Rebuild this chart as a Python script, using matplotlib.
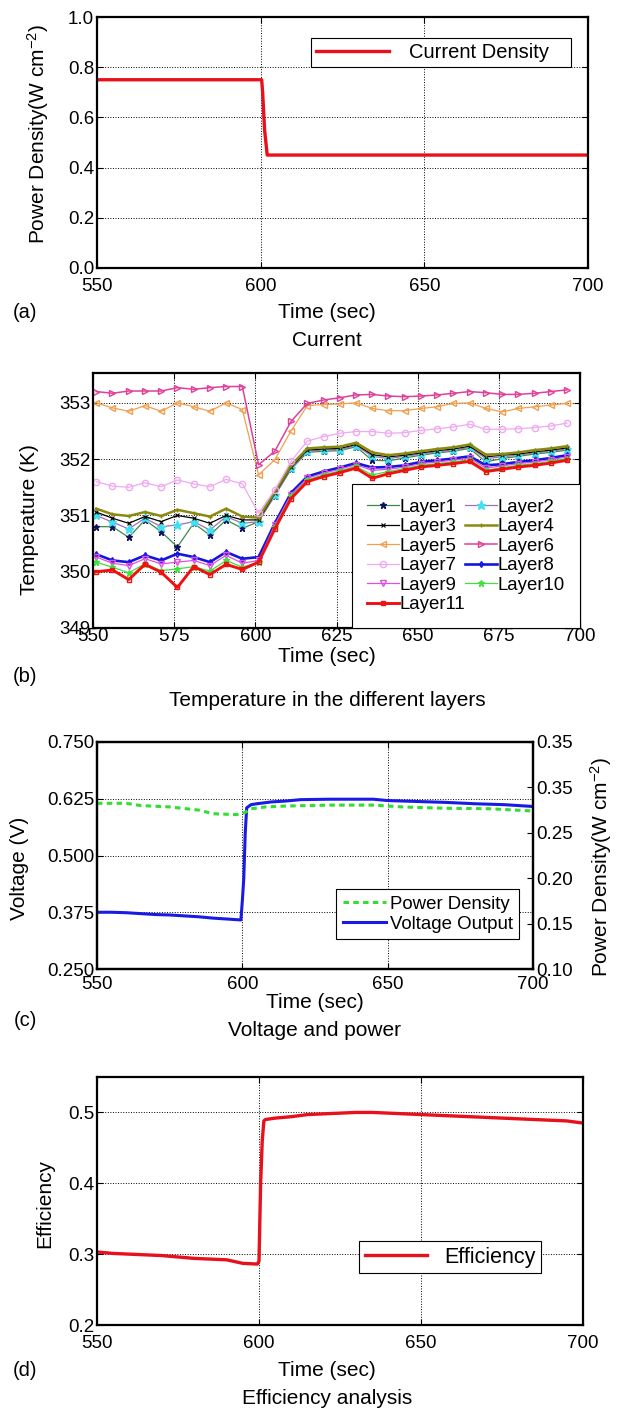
import numpy as np
import matplotlib
matplotlib.use("Agg")
import matplotlib.pyplot as plt

plt.rcParams["font.family"] = ["Liberation Sans", "DejaVu Sans"]
plt.rcParams["mathtext.fontset"] = "custom"
plt.rcParams["mathtext.rm"] = "Liberation Sans"
plt.rcParams["mathtext.it"] = "Liberation Sans:italic"
plt.rcParams["axes.unicode_minus"] = False

# (a) current density step
t_cur = [550, 600.3, 600.6, 601.2, 601.6, 602.0, 700]
cur_density = [0.75, 0.75, 0.70, 0.55, 0.50, 0.45, 0.45]

# (b) layer temperatures (K), sampled every 5 s
t_layer = [551, 556, 561, 566, 571, 576, 581, 586, 591, 596,
           601, 606, 611, 616, 621, 626, 631, 636, 641, 646,
           651, 656, 661, 666, 671, 676, 681, 686, 691, 696]
layer1 = [350.80, 350.80, 350.61, 350.92, 350.71, 350.44, 350.86, 350.65, 350.92, 350.77,
          350.89, 351.35, 351.82, 352.12, 352.14, 352.15, 352.22, 351.98, 351.97, 352.02,
          352.07, 352.11, 352.14, 352.19, 351.95, 352.01, 352.05, 352.09, 352.12, 352.16]
layer2 = [351.00, 350.88, 350.76, 350.95, 350.80, 350.83, 350.89, 350.74, 350.98, 350.86,
          350.89, 351.37, 351.84, 352.14, 352.16, 352.17, 352.24, 352.05, 352.01, 352.05,
          352.09, 352.13, 352.16, 352.21, 352.01, 352.04, 352.07, 352.11, 352.14, 352.18]
layer3 = [351.06, 350.95, 350.86, 350.98, 350.89, 351.00, 350.95, 350.86, 351.00, 350.92,
          350.92, 351.39, 351.86, 352.16, 352.18, 352.19, 352.26, 352.08, 352.04, 352.07,
          352.11, 352.15, 352.18, 352.23, 352.04, 352.07, 352.09, 352.13, 352.16, 352.20]
layer4 = [351.12, 351.02, 350.99, 351.06, 350.99, 351.10, 351.04, 350.98, 351.12, 350.98,
          350.96, 351.42, 351.89, 352.19, 352.21, 352.22, 352.29, 352.12, 352.07, 352.10,
          352.14, 352.18, 352.21, 352.26, 352.08, 352.09, 352.12, 352.16, 352.19, 352.23]
layer5 = [353.00, 352.91, 352.85, 352.95, 352.85, 353.00, 352.93, 352.85, 353.00, 352.88,
          351.72, 351.99, 352.50, 352.95, 352.97, 352.98, 353.00, 352.90, 352.86, 352.86,
          352.90, 352.93, 352.99, 353.00, 352.90, 352.84, 352.90, 352.93, 352.96, 352.99]
layer6 = [353.20, 353.17, 353.21, 353.21, 353.21, 353.27, 353.24, 353.27, 353.29, 353.29,
          351.90, 352.14, 352.67, 352.99, 353.05, 353.09, 353.14, 353.15, 353.12, 353.11,
          353.12, 353.14, 353.17, 353.20, 353.18, 353.15, 353.15, 353.17, 353.20, 353.23]
layer7 = [351.60, 351.52, 351.50, 351.58, 351.51, 351.63, 351.56, 351.51, 351.64, 351.56,
          351.04, 351.45, 351.96, 352.32, 352.40, 352.46, 352.49, 352.49, 352.46, 352.47,
          352.51, 352.54, 352.57, 352.62, 352.53, 352.53, 352.54, 352.56, 352.59, 352.64]
layer8 = [350.31, 350.20, 350.17, 350.29, 350.20, 350.32, 350.26, 350.17, 350.35, 350.23,
          350.26, 350.86, 351.40, 351.69, 351.78, 351.85, 351.93, 351.85, 351.86, 351.89,
          351.95, 351.98, 352.01, 352.05, 351.89, 351.91, 351.95, 351.98, 352.02, 352.07]
layer9 = [350.26, 350.15, 350.11, 350.23, 350.14, 350.17, 350.20, 350.11, 350.29, 350.15,
          350.20, 350.83, 351.37, 351.66, 351.75, 351.82, 351.90, 351.80, 351.82, 351.86,
          351.92, 351.95, 351.98, 352.02, 351.84, 351.88, 351.92, 351.95, 351.99, 352.04]
layer10 = [350.17, 350.08, 349.98, 350.14, 350.02, 350.05, 350.09, 350.01, 350.20, 350.08,
           350.17, 350.80, 351.34, 351.63, 351.72, 351.79, 351.87, 351.72, 351.78, 351.83,
           351.89, 351.92, 351.95, 351.99, 351.80, 351.85, 351.89, 351.92, 351.96, 352.01]
layer11 = [350.00, 350.03, 349.86, 350.13, 349.99, 349.72, 350.09, 349.95, 350.13, 350.04,
           350.17, 350.76, 351.30, 351.60, 351.69, 351.76, 351.84, 351.66, 351.74, 351.80,
           351.86, 351.89, 351.92, 351.96, 351.78, 351.82, 351.86, 351.89, 351.93, 351.98]

# (c) voltage and power density
t_volt = [550, 555, 560, 565, 570, 575, 580, 585, 590, 595, 599.5, 600, 600.5, 601, 601.5,
          603, 605, 610, 615, 620, 630, 640, 645, 650, 660, 670, 680, 690, 695, 700]
voltage = [0.375, 0.375, 0.374, 0.372, 0.370, 0.369, 0.367, 0.365, 0.362, 0.360, 0.358,
           0.40, 0.45, 0.55, 0.605, 0.612, 0.614, 0.618, 0.620, 0.623, 0.624, 0.624, 0.624,
           0.621, 0.619, 0.617, 0.614, 0.612, 0.610, 0.608]
t_pow = [550, 560, 565, 575, 585, 590, 598, 601, 603, 608, 615, 630, 645, 655, 670, 685, 700]
power = [0.2825, 0.2825, 0.280, 0.2785, 0.275, 0.271, 0.270, 0.2725, 0.2765, 0.2785,
         0.2795, 0.2805, 0.2805, 0.2785, 0.277, 0.2765, 0.274]

# (d) efficiency
t_eff = [550, 555, 560, 570, 580, 590, 595, 599.5, 600, 600.5, 601, 601.5, 602, 605, 610,
         615, 620, 625, 630, 635, 640, 650, 660, 670, 680, 690, 695, 700]
efficiency = [0.303, 0.301, 0.300, 0.298, 0.294, 0.292, 0.287, 0.286, 0.29, 0.40, 0.46,
              0.488, 0.490, 0.492, 0.494, 0.497, 0.498, 0.499, 0.500, 0.500, 0.499, 0.497,
              0.495, 0.493, 0.491, 0.489, 0.488, 0.485]

W, H = 619, 1412
fig = plt.figure(figsize=(W / 100, H / 100), dpi=100)


def px_axes(l, r, t, b):
    return fig.add_axes([l / W, 1 - b / H, (r - l) / W, (b - t) / H])


def style(ax, xpad=3, right=True):
    ax.grid(True, linestyle=":", color="k", linewidth=0.7)
    ax.tick_params(direction="in", length=4, labelsize=13.5, top=True, right=right, pad=2)
    ax.tick_params(axis="x", pad=xpad)
    for s in ax.spines.values():
        s.set_linewidth(1.6)


def ftext(x, y, s, **kw):
    kw.setdefault("fontsize", 15)
    kw.setdefault("ha", "center")
    kw.setdefault("va", "center")
    fig.text(x / W, 1 - y / H, s, **kw)


def box(leg):
    leg.get_frame().set_linewidth(0.8)
    leg.get_frame().set_edgecolor("k")


xt = [550, 600, 650, 700]

# ---- (a)
ax = px_axes(97, 588, 17, 268)
ax.plot(t_cur, cur_density, color="#e8101a", lw=2.4, label="Current Density   ")
ax.set_xlim(550, 700)
ax.set_ylim(0, 1)
ax.set_xticks(xt)
ax.set_yticks([0, 0.2, 0.4, 0.6, 0.8, 1.0])
ax.set_yticklabels(["0.0", "0.2", "0.4", "0.6", "0.8", "1.0"])
style(ax, xpad=7)
box(ax.legend(loc="upper right", bbox_to_anchor=(0.965, 0.916), borderaxespad=0,
              fontsize=14.5, handlelength=3.6, handletextpad=1.0, borderpad=0.25,
              fancybox=False, framealpha=1))
ftext(38, 134, "Power Density(W cm$^{-2}$)", rotation=90)
ftext(327, 312, "Time (sec)")
ftext(25, 313, "(a)", fontsize=14.5)
ftext(327, 340, "Current")

# ---- (b)
ax = px_axes(93, 580, 373, 628)
layers = [layer1, layer2, layer3, layer4, layer5, layer6, layer7, layer8, layer9, layer10, layer11]
styles = [
    dict(color="#3a8a4a", marker="*", mfc="#101060", mec="#101060", ms=4.5, lw=0.9),
    dict(color="#a070b0", marker="*", mfc="#40e0f0", mec="#40e0f0", ms=6.5, lw=0.9),
    dict(color="k", marker="x", mfc="k", mec="k", ms=3.5, lw=0.9, mew=0.8),
    dict(color="#8a8a10", marker="+", mfc="#8a8a10", mec="#8a8a10", ms=3.5, lw=1.8),
    dict(color="#f0a050", marker="<", mfc="none", mec="#f0a050", ms=4.5, lw=0.9),
    dict(color="#e0409a", marker=">", mfc="none", mec="#e0409a", ms=4.5, lw=1.1),
    dict(color="#f0a8f0", marker="o", mfc="none", mec="#f0a8f0", ms=4.5, lw=0.9),
    dict(color="#1515e0", marker="d", mfc="none", mec="#1515e0", ms=3, lw=1.9),
    dict(color="#e050e0", marker="v", mfc="none", mec="#e050e0", ms=4.5, lw=0.9),
    dict(color="#40e040", marker="*", mfc="#40e040", mec="#40e040", ms=4.5, lw=0.9),
    dict(color="#f01010", marker="s", mfc="none", mec="#f01010", ms=3, lw=2.1),
]
handles = []
for i, (vals, st) in enumerate(zip(layers, styles)):
    h, = ax.plot(t_layer, vals, label=f"Layer{i + 1}", **st)
    handles.append(h)
ax.set_xlim(550, 700)
ax.set_ylim(349, 353.53)
ax.set_xticks([550, 575, 600, 625, 650, 675, 700])
ax.set_yticks([349, 350, 351, 352, 353])
style(ax, xpad=0)
order = [0, 2, 4, 6, 8, 10, 1, 3, 5, 7, 9]
box(ax.legend([handles[i] for i in order], [handles[i].get_label() for i in order],
              ncol=2, loc="lower right", borderaxespad=0, fontsize=13.4,
              handlelength=1.7, handletextpad=0.05, columnspacing=0.0,
              labelspacing=0.13, borderpad=0.8, fancybox=False, framealpha=1))
ftext(30, 520, "Temperature (K)", rotation=90)
ftext(327, 656, "Time (sec)")
ftext(25, 677, "(b)", fontsize=14.5)
ftext(327, 700, "Temperature in the different layers")

# ---- (c)
ax = px_axes(97, 533, 742, 969)
ax2 = ax.twinx()
lv, = ax.plot(t_volt, voltage, color="#1a1ae6", lw=2.2, label="Voltage Output")
lp, = ax2.plot(t_pow, power, color="#33dd33", lw=2.2, linestyle=(0, (1.8, 1.4)),
               label="Power Density")
ax.set_xlim(550, 700)
ax.set_ylim(0.25, 0.75)
ax.set_xticks(xt)
ax.set_yticks([0.25, 0.375, 0.5, 0.625, 0.75])
ax.set_yticklabels(["0.250", "0.375", "0.500", "0.625", "0.750"])
style(ax, xpad=5, right=False)
ax2.set_ylim(0.10, 0.35)
ax2.set_yticks([0.10, 0.15, 0.20, 0.25, 0.30, 0.35])
ax2.set_yticklabels(["0.10", "0.15", "0.20", "0.25", "0.35", "0.35"])
ax2.tick_params(direction="in", length=4, labelsize=13.5, pad=2)
for s in ax2.spines.values():
    s.set_linewidth(1.6)
box(ax2.legend([lp, lv], ["Power Density", "Voltage Output"], loc="lower right",
               bbox_to_anchor=(0.968, 0.132), borderaxespad=0, fontsize=13.4,
               handlelength=2.3, handletextpad=0.2, borderpad=0.35, labelspacing=0.15,
               fancybox=False, framealpha=1))
ftext(20, 868, "Voltage (V)", rotation=90)
ftext(601, 867, "Power Density(W cm$^{-2}$)", rotation=90)
ftext(315, 1003, "Time (sec)")
ftext(25, 1020, "(c)", fontsize=14.5)
ftext(315, 1030, "Voltage and power")

# ---- (d)
ax = px_axes(97, 583, 1077, 1325)
ax.plot(t_eff, efficiency, color="#e8101a", lw=2.4, label="Efficiency")
ax.set_xlim(550, 700)
ax.set_ylim(0.2, 0.55)
ax.set_xticks(xt)
ax.set_yticks([0.2, 0.3, 0.4, 0.5])
style(ax, xpad=7)
box(ax.legend(loc="lower right", bbox_to_anchor=(0.9136, 0.21), borderaxespad=0,
              fontsize=15.5, handlelength=2.9, handletextpad=0.8, borderpad=0.25,
              fancybox=False, framealpha=1))
ftext(45, 1204, "Efficiency", rotation=90)
ftext(327, 1370, "Time (sec)")
ftext(25, 1370, "(d)", fontsize=14.5)
ftext(327, 1398, "Efficiency analysis")

fig.savefig("out.png", dpi=100)
